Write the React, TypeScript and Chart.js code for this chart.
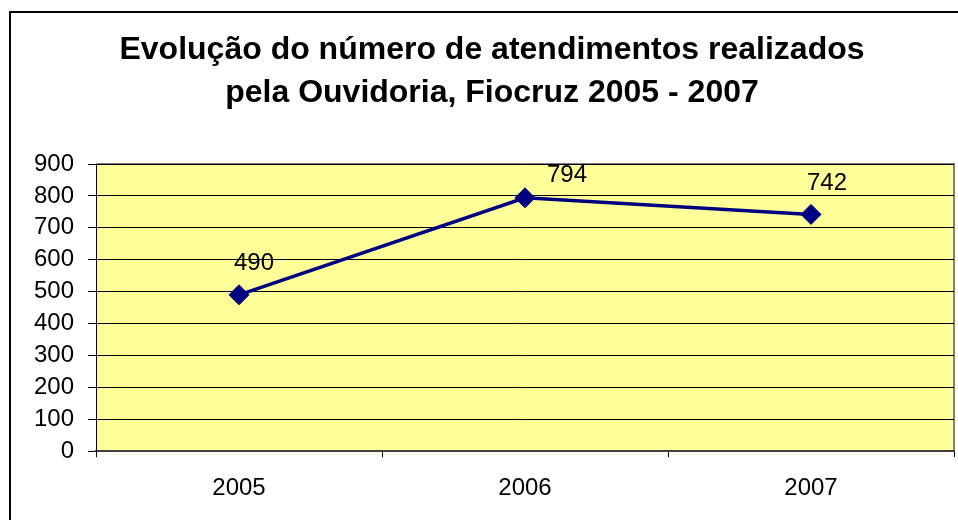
import React, { useEffect, useRef } from "react";
import { Chart, registerables } from "chart.js";

Chart.register(...registerables);

const titleLines = ["Evolução do número de atendimentos realizados", "pela Ouvidoria, Fiocruz 2005 - 2007"];
const years = ["2005", "2006", "2007"];
const atendimentos = [490, 794, 742];
const labelOffsetX = [15, 42, 16];
const labelOffsetY = [-31, -22, -31];

const FONT = "Arial, 'Liberation Sans', sans-serif";

const plotBg = {
  id: "plotBg",
  beforeDraw(chart: any) {
    const { ctx, chartArea: a } = chart;
    ctx.save();
    ctx.fillStyle = "#FFFF99";
    ctx.fillRect(a.left, a.top, a.right - a.left, a.bottom - a.top);
    ctx.strokeStyle = "#808080";
    ctx.lineWidth = 2;
    ctx.beginPath();
    ctx.moveTo(a.left, a.top);
    ctx.lineTo(a.right, a.top);
    ctx.lineTo(a.right, a.bottom);
    ctx.stroke();
    // outer chart frame
    ctx.strokeStyle = "#000";
    ctx.beginPath();
    ctx.moveTo(10, chart.height);
    ctx.lineTo(10, 12);
    ctx.lineTo(chart.width, 12);
    ctx.stroke();
    ctx.restore();
  },
};

const dataLabels = {
  id: "dataLabels",
  afterDatasetsDraw(chart: any) {
    const { ctx } = chart;
    const meta = chart.getDatasetMeta(0);
    ctx.save();
    ctx.fillStyle = "#000";
    ctx.font = `24px ${FONT}`;
    ctx.textAlign = "center";
    ctx.textBaseline = "middle";
    meta.data.forEach((pt: any, i: number) => {
      ctx.fillText(String(atendimentos[i]), pt.x + labelOffsetX[i], pt.y + labelOffsetY[i]);
    });
    ctx.restore();
  },
};

export default function App() {
  const ref = useRef<HTMLCanvasElement>(null);
  useEffect(() => {
    const chart = new Chart(ref.current!, {
      type: "line",
      data: {
        labels: years,
        datasets: [
          {
            data: atendimentos,
            borderColor: "#000080",
            backgroundColor: "#000080",
            borderWidth: 3.5,
            pointStyle: "rectRot",
            pointRadius: 10,
            pointBorderWidth: 1,
            pointBorderColor: "#000080",
            pointBackgroundColor: "#000080",
            tension: 0,
          },
        ],
      },
      options: {
        responsive: false,
        animation: false,
        layout: { autoPadding: false, padding: { left: 30, right: 4, top: 0, bottom: 0 } },
        plugins: {
          legend: { display: false },
          tooltip: { enabled: false },
          title: {
            display: true,
            text: titleLines,
            color: "#000",
            font: { family: FONT, size: 32, weight: "bold", lineHeight: 43 / 32 },
            padding: { top: 29, bottom: 49 },
          },
        },
        scales: {
          x: {
            offset: true,
            afterFit(scale: any) {
              scale.paddingLeft = 0;
              scale.paddingRight = 0;
            },
            grid: {
              offset: true,
              drawOnChartArea: false,
              color: "#000",
              tickLength: 6,
            },
            border: { color: "#404040", width: 2 },
            ticks: {
              color: "#000",
              font: { family: FONT, size: 24 },
              padding: 17,
            },
          },
          y: {
            min: 0,
            max: 900,
            afterFit(scale: any) {
              scale.width = 66;
            },
            grid: { color: "#000", lineWidth: 1, tickLength: 8 },
            border: { color: "#000", width: 1 },
            ticks: {
              stepSize: 100,
              autoSkip: false,
              color: "#000",
              font: { family: FONT, size: 24 },
              padding: 14,
            },
          },
        },
      },
      plugins: [plotBg, dataLabels],
    });
    return () => chart.destroy();
  }, []);

  return (
    <div style={{ position: "fixed", left: 0, top: 0, width: 958, height: 520, overflow: "hidden", background: "#fff" }}>
      <canvas ref={ref} width={958} height={520} style={{ position: "absolute", left: 0, top: 0, display: "block" }} />
    </div>
  );
}
